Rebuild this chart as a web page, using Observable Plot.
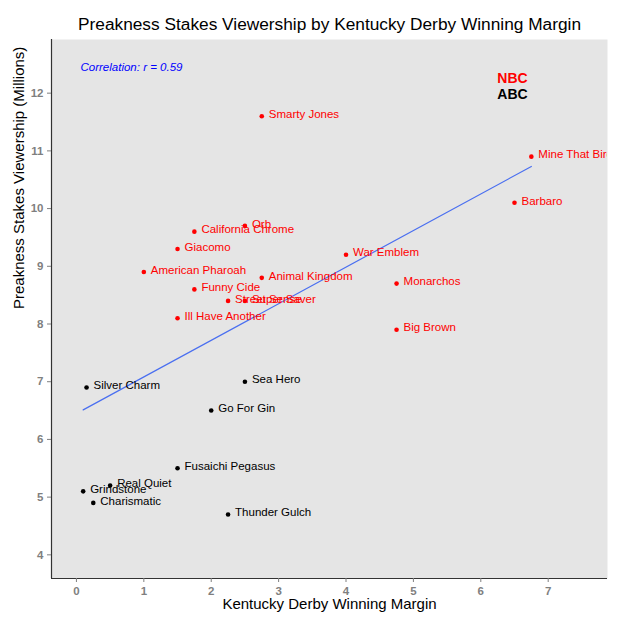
<!DOCTYPE html>
<html><head><meta charset="utf-8">
<script src="https://cdn.jsdelivr.net/npm/d3@7"></script>
<script src="https://cdn.jsdelivr.net/npm/@observablehq/plot@0.6"></script>
<style>body{margin:0;background:#fff}</style></head>
<body><div id="chart"></div>
<script>
const horses = ["Smarty Jones","Mine That Bird","Barbaro","Orb","California Chrome","Giacomo","War Emblem","American Pharoah","Animal Kingdom","Monarchos","Funny Cide","Street Sense","Super Saver","Ill Have Another","Big Brown","Sea Hero","Silver Charm","Go For Gin","Fusaichi Pegasus","Real Quiet","Grindstone","Charismatic","Thunder Gulch"];
const margins = [2.75,6.75,6.5,2.5,1.75,1.5,4,1,2.75,4.75,1.75,2.25,2.5,1.5,4.75,2.5,0.15,2,1.5,0.5,0.1,0.25,2.25];
const viewers = [11.6,10.9,10.1,9.7,9.6,9.3,9.2,8.9,8.8,8.7,8.6,8.4,8.4,8.1,7.9,7.0,6.9,6.5,5.5,5.2,5.1,4.9,4.7];
const networks = ["NBC","NBC","NBC","NBC","NBC","NBC","NBC","NBC","NBC","NBC","NBC","NBC","NBC","NBC","NBC","ABC","ABC","ABC","ABC","ABC","ABC","ABC","ABC"];
const xTicks = [0,1,2,3,4,5,6,7];
const yTicks = [4,5,6,7,8,9,10,11,12];
const networkNames = ["NBC","ABC"];

const data = horses.map((h,i)=>({horse:h, margin:margins[i], viewers:viewers[i], network:networks[i]}));
const xDomain = [-0.37, 7.88];
const yDomain = [3.59, 12.93];

const chart = Plot.plot({
  width: 625, height: 625,
  marginLeft: 51, marginRight: 18, marginTop: 39, marginBottom: 47,
  style: {fontFamily: "'Liberation Sans', Arial, Helvetica, sans-serif", background: "#fff"},
  x: {domain: xDomain},
  y: {domain: yDomain},
  color: {domain: networkNames, range: ["#ff0000","#000000"]},
  marks: [
    Plot.frame({fill: "#e5e5e5", stroke: null}),
    Plot.ruleX([xDomain[0]], {stroke: "#333", strokeWidth: 1.2}),
    Plot.ruleY([yDomain[0]], {stroke: "#333", strokeWidth: 1.2}),
    Plot.axisX(xTicks, {label: null, tickSize: 4, tickPadding: 4, tickFormat: "d", color: "#7f7f7f", fontWeight: "bold", fontSize: 11.5}),
    Plot.axisY(yTicks, {label: null, tickSize: 4, tickPadding: 4, tickFormat: "d", color: "#7f7f7f", fontWeight: "bold", fontSize: 11.5}),
    Plot.linearRegressionY(data, {x: "margin", y: "viewers", stroke: "#4a6ff0", strokeWidth: 1.2, ci: 0}),
    Plot.dot(data, {x: "margin", y: "viewers", fill: "network", r: 2.3}),
    Plot.text(data, {x: "margin", y: "viewers", text: "horse", fill: "network", textAnchor: "start", dx: 7, dy: -2, fontSize: 11.5, clip: true}),
    Plot.text(["Correlation: r = 0.59"], {frameAnchor: "top-left", dx: 29, dy: 28, textAnchor: "start", lineAnchor: "middle", fill: "#0000ff", fontStyle: "italic", fontSize: 11.5}),
    Plot.text([networkNames[0]], {frameAnchor: "top-left", dx: 461, dy: 39, textAnchor: "middle", lineAnchor: "middle", fill: "#ff0000", fontWeight: "bold", fontSize: 14}),
    Plot.text([networkNames[1]], {frameAnchor: "top-left", dx: 461, dy: 55, textAnchor: "middle", lineAnchor: "middle", fill: "#000000", fontWeight: "bold", fontSize: 14}),
    Plot.text(["Preakness Stakes Viewership by Kentucky Derby Winning Margin"], {frameAnchor: "top", dy: -10, lineAnchor: "bottom", fill: "#000", fontSize: 17.3}),
    Plot.text(["Kentucky Derby Winning Margin"], {frameAnchor: "bottom", dy: 30, fill: "#000", fontSize: 15}),
    Plot.text(["Preakness Stakes Viewership (Millions)"], {frameAnchor: "left", dx: -32, rotate: -90, fill: "#000", fontSize: 15})
  ]
});
document.getElementById("chart").appendChild(chart);
</script>
</body></html>
